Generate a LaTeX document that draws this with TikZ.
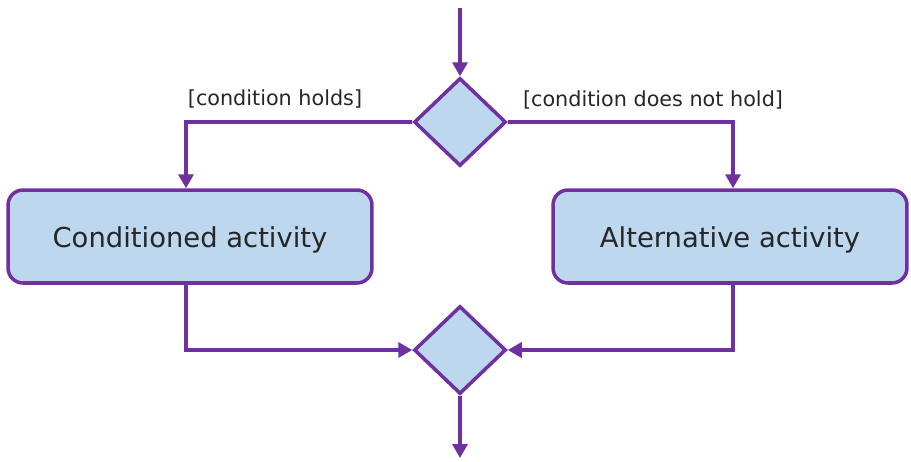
\documentclass[tikz,border=0pt]{standalone}
\usepackage{fontspec}
\setmainfont{DejaVu Sans}
\usetikzlibrary{arrows.meta, shapes.geometric}
\definecolor{actfill}{HTML}{BDD7EE}
\definecolor{actedge}{HTML}{7030A0}
\definecolor{labtext}{HTML}{262626}

\begin{document}
\begin{tikzpicture}[
  x=0.02cm, y=-0.02cm,
  act/.style={rectangle, rounded corners=0.3cm, draw=actedge, fill=actfill,
              line width=2pt, minimum width=7.28cm, minimum height=1.86cm,
              text height=16.5pt, text depth=3.7pt,
              align=center, font=\fontsize{15.6}{18}\selectfont, text=labtext},
  dec/.style={diamond, draw=actedge, fill=actfill, line width=2pt, inner sep=0pt,
              minimum width=1.84cm, minimum height=1.76cm},
  flow/.style={draw=actedge, line width=2pt,
               -{Triangle[length=0.28cm, width=0.3cm]}},
  lab/.style={font=\fontsize{11.8}{14}\selectfont, text=labtext},
]
\useasboundingbox (0,0) rectangle (911,461);
% ---- decision / merge ----
\coordinate (start) at (460,8);
\node[dec] (branch) at (460,122) {};
\node[dec] (merge) at (460,350) {};
\coordinate (finish) at (460,458);
% ---- the two activities ----
\node[act] (condact) at (190,236.5) {Conditioned activity};
\node[act, minimum width=7.08cm] (altact) at (730,236.5) {Alternative activity};
% ---- guards ----
\node[lab] (guardyes) at (275,99) {[condition holds]};
\node[lab] (guardno) at (653,100) {[condition does not hold]};
% ---- flows ----
\draw[flow] (start) -- (branch.north);
\draw[flow] (branch.west) -| (condact.north -| 186,0);
\draw[flow] (branch.east) -| (altact.north -| 733,0);
\draw[flow] (condact.south -| 186,0) |- (merge.west);
\draw[flow] (altact.south -| 733,0) |- (merge.east);
\draw[flow] (merge.south) -- (finish);
\end{tikzpicture}
\end{document}
